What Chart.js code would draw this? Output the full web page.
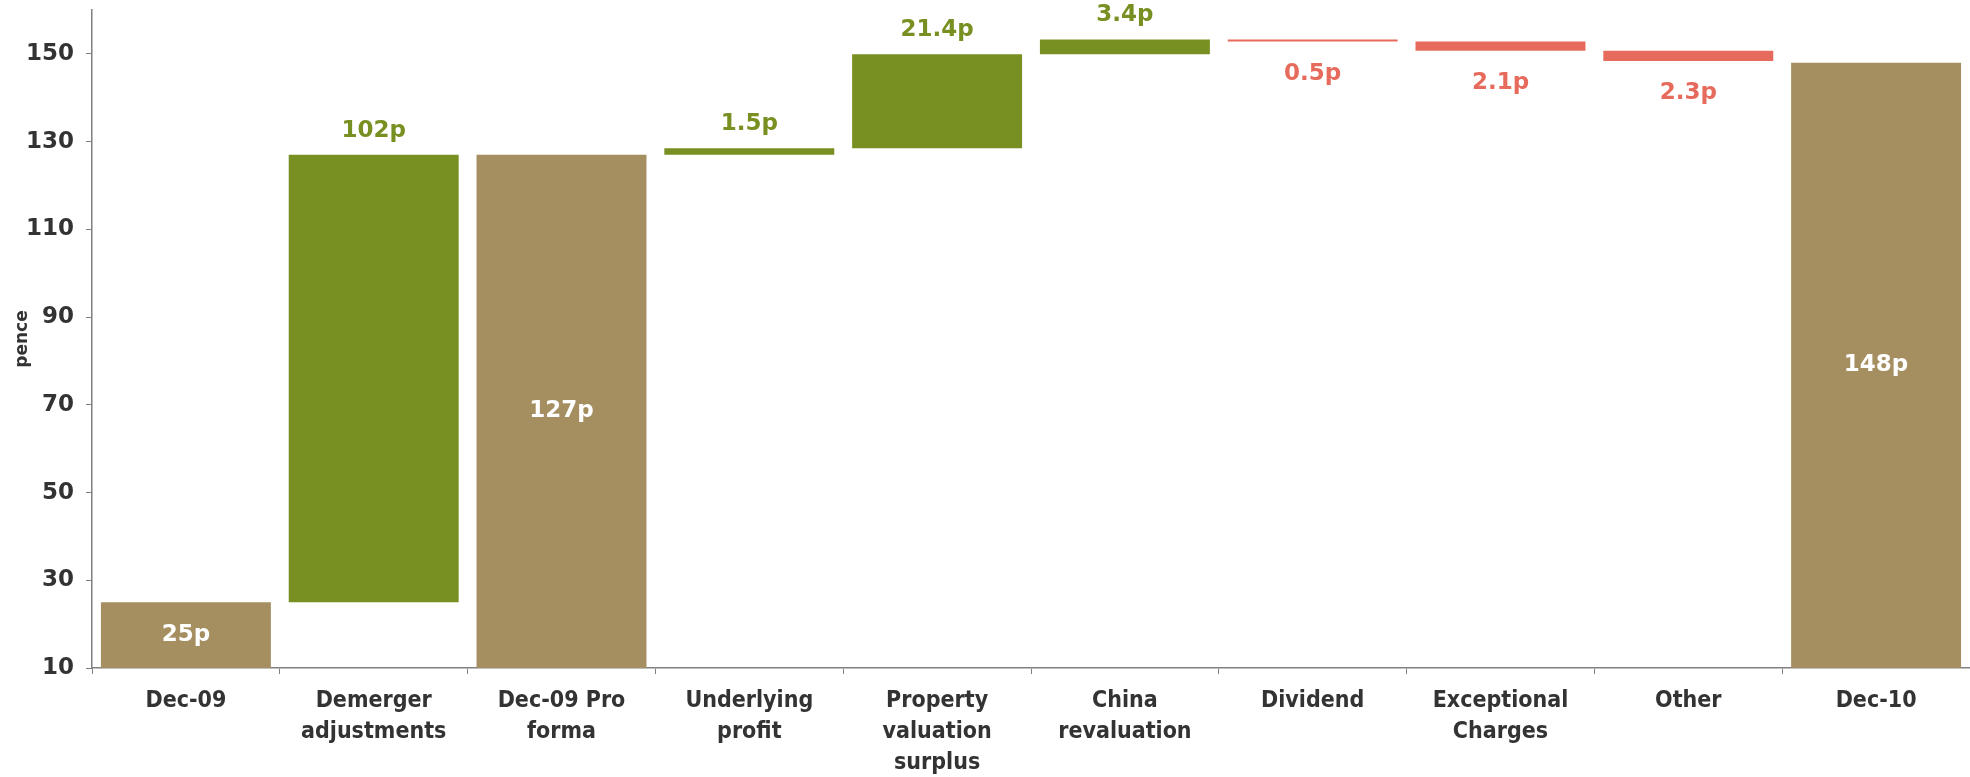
<!DOCTYPE html>
<html>
<head>
<meta charset="utf-8">
<script src="https://cdn.jsdelivr.net/npm/chart.js@4"></script>
<style>
  body { margin: 0; background: #fff; }
  #wrap { width: 1970px; height: 777px; }
</style>
</head>
<body>
<div id="wrap"><canvas id="navChart" width="1970" height="777"></canvas></div>
<script>
// NAV per share bridge, Dec-09 to Dec-10 (pence)
const categories = [
  "Dec-09",
  ["Demerger", "adjustments"],
  ["Dec-09 Pro", "forma"],
  ["Underlying", "profit"],
  ["Property", "valuation", "surplus"],
  ["China", "revaluation"],
  "Dividend",
  ["Exceptional", "Charges"],
  "Other",
  "Dec-10"
];
// "total" bars stand on the axis, the rest float on the running total
const barKinds = ["total", "up", "total", "up", "up", "up", "down", "down", "down", "total"];
const barValues = [25, 102, 127, 1.5, 21.4, 3.4, 0.5, 2.1, 2.3, 148];
const yTicks = [10, 30, 50, 70, 90, 110, 130, 150];

const colors = { total: "#A58F60", up: "#788F21", down: "#E76B5C" };
const numFont = "'DejaVu Sans', sans-serif";
const textFont = "'DejaVu Sans Condensed', 'DejaVu Sans', sans-serif";

// build [start, end] pairs for the floating bars
let running = 0;
const ranges = barKinds.map((kind, i) => {
  const v = barValues[i];
  if (kind === "total") {
    running = v;
    return [0, v];
  }
  const start = running;
  running = kind === "up" ? running + v : running - v;
  return [start, running];
});

// value labels: white inside totals, coloured above/below the steps
const valueLabels = {
  id: "valueLabels",
  afterDatasetsDraw(chart) {
    const ctx = chart.ctx;
    const area = chart.chartArea;
    const meta = chart.getDatasetMeta(0);
    ctx.save();
    ctx.font = `bold 23px ${numFont}`;
    ctx.textAlign = "center";
    ctx.textBaseline = "middle";
    meta.data.forEach((bar, i) => {
      const kind = barKinds[i];
      const text = barValues[i] + "p";
      const top = Math.min(bar.y, bar.base);
      const bottom = Math.min(Math.max(bar.y, bar.base), area.bottom);
      let y;
      if (kind === "total") {
        ctx.fillStyle = "#ffffff";
        y = (top + bottom) / 2;
      } else if (kind === "up") {
        ctx.fillStyle = colors.up;
        y = top - 24;
      } else {
        ctx.fillStyle = colors.down;
        y = bottom + 32;
      }
      ctx.fillText(text, bar.x, y);
    });
    ctx.restore();
  }
};

new Chart(document.getElementById("navChart"), {
  type: "bar",
  data: {
    labels: categories,
    datasets: [{
      data: ranges,
      backgroundColor: barKinds.map(k => colors[k]),
      borderWidth: 0,
      barPercentage: 0.905,
      categoryPercentage: 1
    }]
  },
  options: {
    responsive: false,
    animation: false,
    layout: { padding: { top: 10, right: 0, bottom: 0, left: 0 } },
    plugins: {
      legend: { display: false },
      tooltip: { enabled: false }
    },
    scales: {
      x: {
        afterFit: (scale) => {
          scale.height = 109;
        },
        grid: {
          display: true,
          drawOnChartArea: false,
          tickLength: 6,
          color: "#808080",
          offset: true
        },
        border: { color: "#808080", width: 1.5 },
        ticks: {
          color: "#333333",
          font: { family: textFont, size: 23, weight: "bold", lineHeight: 1.36 },
          padding: 11,
          maxRotation: 0,
          autoSkip: false
        }
      },
      y: {
        min: 10,
        max: 160,
        afterBuildTicks: (scale) => {
          scale.ticks = yTicks.map(v => ({ value: v }));
        },
        afterFit: (scale) => {
          scale.width = 92;
          scale.paddingTop = 0;
          scale.paddingBottom = 0;
        },
        grid: {
          display: true,
          drawOnChartArea: false,
          tickLength: 6,
          color: "#808080"
        },
        border: { color: "#808080", width: 1.5 },
        title: {
          display: true,
          text: "pence",
          color: "#333333",
          font: { family: numFont, size: 17, weight: "bold", lineHeight: 1.2 },
          padding: { top: 12, bottom: 0 }
        },
        ticks: {
          color: "#333333",
          font: { family: numFont, size: 23, weight: "bold" },
          padding: 12
        }
      }
    }
  },
  plugins: [valueLabels]
});
</script>
</body>
</html>
